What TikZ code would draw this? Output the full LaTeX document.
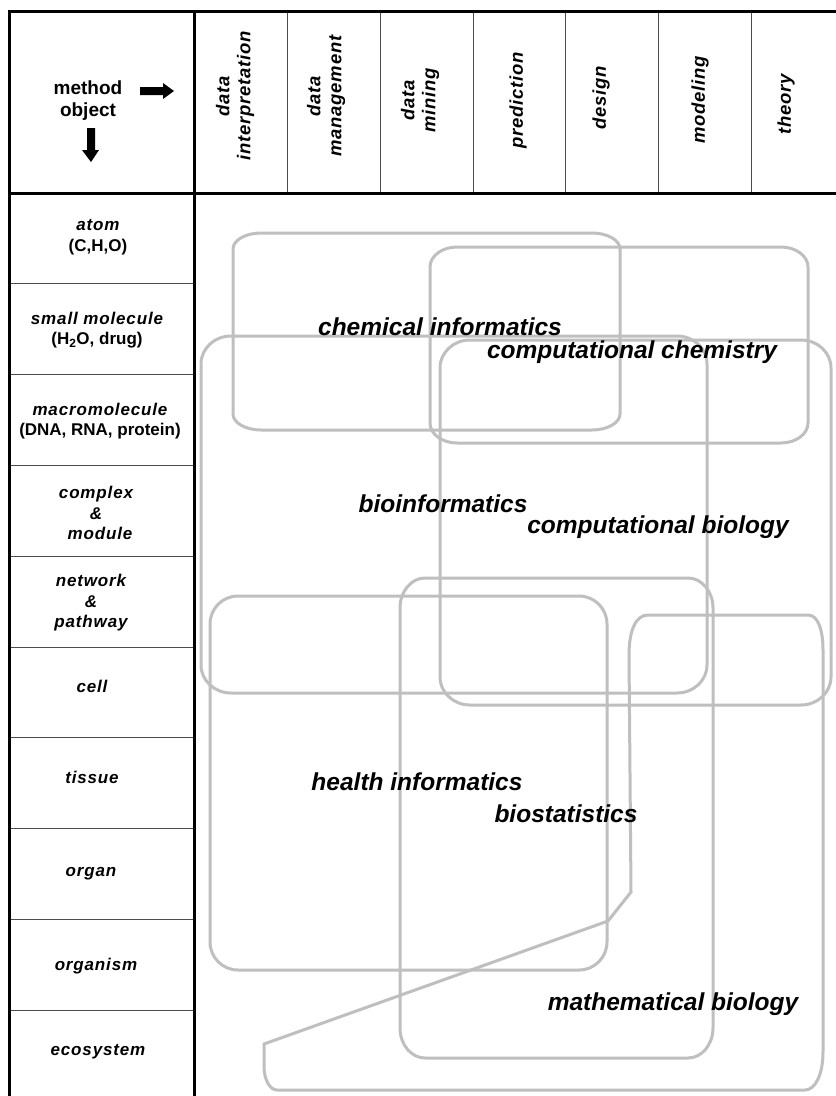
\documentclass[tikz,border=0pt]{standalone}
\usepackage{fontspec}
\setmainfont{Liberation Sans}
\newcommand\areabox[6]{% x1 y1 x2 y2 rx ry
  \draw[area] (#1+#5,#2) -- (#3-#5,#2)
    .. controls (#3-0.448*#5,#2) and (#3,#2+0.448*#6) .. (#3,#2+#6)
    -- (#3,#4-#6)
    .. controls (#3,#4-0.448*#6) and (#3-0.448*#5,#4) .. (#3-#5,#4)
    -- (#1+#5,#4)
    .. controls (#1+0.448*#5,#4) and (#1,#4-0.448*#6) .. (#1,#4-#6)
    -- (#1,#2+#6)
    .. controls (#1,#2+0.448*#6) and (#1+0.448*#5,#2) .. cycle;}
\newcommand\spit{\itshape\addfontfeature{LetterSpace=5}}
\begin{document}
\begin{tikzpicture}[x=1pt,y=-1pt,
  thickrule/.style={line width=3pt,black},
  thinrule/.style={line width=1pt,black!70},
  area/.style={draw=black!25,line width=3pt},
  fieldlabel/.style={font=\fontsize{24.5}{28}\selectfont\bfseries\itshape,anchor=base,inner sep=0pt},
  colhead/.style={font=\fontsize{18.5}{21}\selectfont\bfseries\itshape\addfontfeature{LetterSpace=4},rotate=90,align=center,inner sep=0pt},
  rowhead/.style={font=\fontsize{17}{20.5}\selectfont\bfseries,align=center,inner sep=0pt},
  rowit/.style={font=\fontsize{17}{20.5}\selectfont\bfseries\spit,align=center,inner sep=0pt},
  rowbase/.style={rowit,anchor=base},
]
\useasboundingbox (0,0) rectangle (836,1096);
\fill[white] (0,0) rectangle (836,1096);

% thin grid lines
\foreach \x in {287,380,473,565,658,751} \draw[thinrule] (\x,11) -- (\x,193);
\foreach \y in {283,374,465,556,647,737,828,919,1010} \draw[thinrule] (9,\y) -- (194,\y);
% thick frame
\draw[thickrule] (836,11) -- (9,11) -- (9,1096);
\draw[thickrule] (194,11) -- (194,1096);
\draw[thickrule] (9,193) -- (836,193);

% header corner
\node[font=\fontsize{19}{22}\selectfont\bfseries,align=center,inner sep=0pt] (corner) at (88,101) {method\\object};
\fill (140,87) -- (163,87) -- (163,83) -- (174,91) -- (163,99) -- (163,95) -- (140,95) -- cycle;
\fill (87,128) -- (95,128) -- (95,150) -- (99,150) -- (91,162) -- (82,150) -- (87,150) -- cycle;

% column headers
\node[colhead] (c1) at (235,96) {data\\interpretation};
\node[colhead] (c2) at (326,96) {data\\management};
\node[colhead] (c3) at (420,100) {data\\mining};
\node[colhead] (c4) at (518,100) {prediction};
\node[colhead] (c5) at (601,98) {design};
\node[colhead] (c6) at (700,100) {modeling};
\node[colhead] (c7) at (786,104) {theory};

% row headers
\node[rowhead] (r1) at (98,237) {{\spit atom}\\(C,H,O)};
\node[rowhead] (r2) at (97,330) {{\spit small molecule}\\(H\textsubscript{2}O, drug)};
\node[rowhead] (r3) at (100,421) {{\spit macromolecule}\\(DNA, RNA, protein)};
\node[rowit] (r4) at (96,513) {complex\\\&\\\hspace*{8pt}module};
\node[rowit] (r5) at (91,603) {network\\\&\\pathway};
\node[rowbase] (r6) at (92,692) {cell};
\node[rowbase] (r7) at (92,783) {tissue};
\node[rowbase] (r8) at (91,876) {organ};
\node[rowbase] (r9) at (96,970) {organism};
\node[rowbase] (r10) at (98,1055) {ecosystem};

% field areas
\areabox{233}{233}{620}{430}{28}{16}
\areabox{430}{247}{808}{443}{27}{20}
\areabox{201}{336}{707}{693}{30}{28}
\areabox{440}{340}{831}{705}{30}{28}
\areabox{210}{596}{607}{970}{28}{28}
\areabox{400}{578}{713}{1058}{25}{30}
% mathematical biology
\draw[area] (631,892) -- (629,655)
  .. controls (629,630) and (636,615) .. (648,615)
  -- (808,615)
  .. controls (818,615) and (823,630) .. (823,650)
  -- (823,1052)
  .. controls (823,1075) and (815,1090) .. (805,1090)
  -- (277,1090)
  .. controls (270,1090) and (264,1080) .. (264,1066)
  -- (264,1044) -- (608,921) -- cycle;

% field labels
\node[fieldlabel] (chemInf) at (440,335) {chemical informatics};
\node[fieldlabel] (compChem) at (632,358) {computational chemistry};
\node[fieldlabel] (bioInf) at (443,512) {bioinformatics};
\node[fieldlabel] (compBio) at (658,533) {computational biology};
\node[fieldlabel] (healthInf) at (417,790) {health informatics};
\node[fieldlabel] (bioStat) at (566,822) {biostatistics};
\node[fieldlabel] (mathBio) at (673,1010) {mathematical biology};
\end{tikzpicture}
\end{document}
